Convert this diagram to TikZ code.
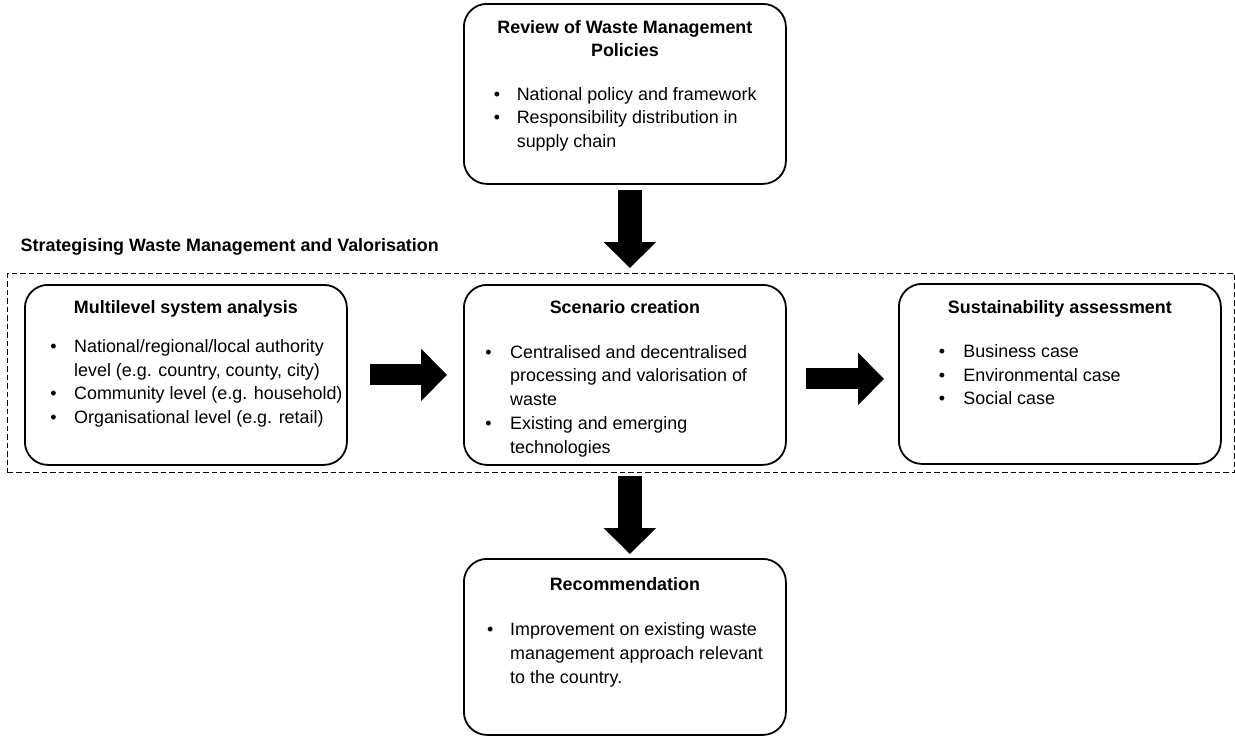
\documentclass[tikz,border=0pt]{standalone}
\usepackage{fontspec}
\setmainfont{Liberation Sans}
\usetikzlibrary{arrows.meta,calc}

\newcommand{\wfont}{\fontsize{17.9}{23.8}\selectfont}
\newcommand{\blist}[2]{\begin{tabular}[t]{@{}p{#1}@{}l@{}}#2\end{tabular}}
\newcommand{\btitle}[1]{\begin{tabular}[t]{@{}c@{}}#1\end{tabular}}

\tikzset{
  wbox/.style={draw, line width=1.8pt, rounded corners=23pt, minimum width=322pt,
    minimum height=180pt, inner sep=0pt, anchor=north west},
  boxtitle/.style={font=\wfont\bfseries, inner sep=0pt, anchor=base},
  boxlist/.style={font=\wfont, inner sep=0pt, anchor=base west},
  fatarrow/.style={line width=24pt, -{Triangle[length=26pt,width=51pt]}},
}

\begin{document}
\begin{tikzpicture}[x=1pt,y=-1pt]
\useasboundingbox (0,0) rectangle (1235,736);

% strategising frame
\node[draw, dash pattern=on 5.5pt off 3pt, line width=1.4pt, minimum width=1227pt,
  minimum height=199pt, inner sep=0pt, anchor=north west] (strat) at (7,273) {};
\node[boxtitle, anchor=base west] (stratlbl) at (20.5,251.7)
  {Strategising Waste Management and Valorisation};

% boxes
\node[wbox] (rev) at (463,3) {};
\node[wbox] (mla) at (24,284) {};
\node[wbox] (sce) at (463,284) {};
\node[wbox] (sus) at (898,283) {};
\node[wbox, minimum height=176pt] (rec) at (463,558) {};

% review
\node[boxtitle] (revt) at ($(rev.north)+(0,30)$)
  {\btitle{Review of Waste Management\\Policies}};
\node[boxlist] (revl) at ($(rev.north west)+(30.6,97)$)
  {\blist{23pt}{• & National policy and framework\\
                • & Responsibility distribution in\\
                  & supply chain}};

% multilevel
\node[boxtitle] (mlat) at ($(mla.north)+(0,29.3)$) {Multilevel system analysis};
\node[boxlist] (mlal) at ($(mla.north west)+(26.2,68.3)$)
  {\blist{23.8pt}{• & National/regional/local authority\\
                    & level (e.g. country, county, city)\\
                  • & Community level (e.g. household)\\
                  • & Organisational level (e.g. retail)}};

% scenario
\node[boxtitle] (scet) at ($(sce.north)+(0,29.3)$) {Scenario creation};
\node[boxlist] (scel) at ($(sce.north west)+(22.2,74)$)
  {\blist{24.8pt}{• & Centralised and decentralised\\
                    & processing and valorisation of\\
                    & waste\\
                  • & Existing and emerging\\
                    & technologies}};

% sustainability
\node[boxtitle] (sust) at ($(sus.north)+(0,30.3)$) {Sustainability assessment};
\node[boxlist] (susl) at ($(sus.north west)+(40.6,74.3)$)
  {\blist{24.7pt}{• & Business case\\
                  • & Environmental case\\
                  • & Social case}};

% recommendation
\node[boxtitle] (rect) at ($(rec.north)+(0,32)$) {Recommendation};
\node[boxlist] (recl) at ($(rec.north west)+(24,77.7)$)
  {\blist{23pt}{• & Improvement on existing waste\\
                  & management approach relevant\\
                  & to the country.}};

% arrows
\draw[fatarrow] ($(rev.south)+(5,5.5)$) -- ($(strat.north -| rev.south)+(5,-5)$);
\draw[fatarrow, line width=21pt] ($(mla.east)+(22,0)$) -- ($(sce.west)+(-16,0)$);
\draw[fatarrow, line width=21pt] ($(sce.east)+(19,4)$) -- ($(sus.west |- sce.east)+(-14,4)$);
\draw[fatarrow] ($(strat.south -| rec.north)+(5,3)$) -- ($(rec.north)+(5,-4)$);

\end{tikzpicture}
\end{document}
